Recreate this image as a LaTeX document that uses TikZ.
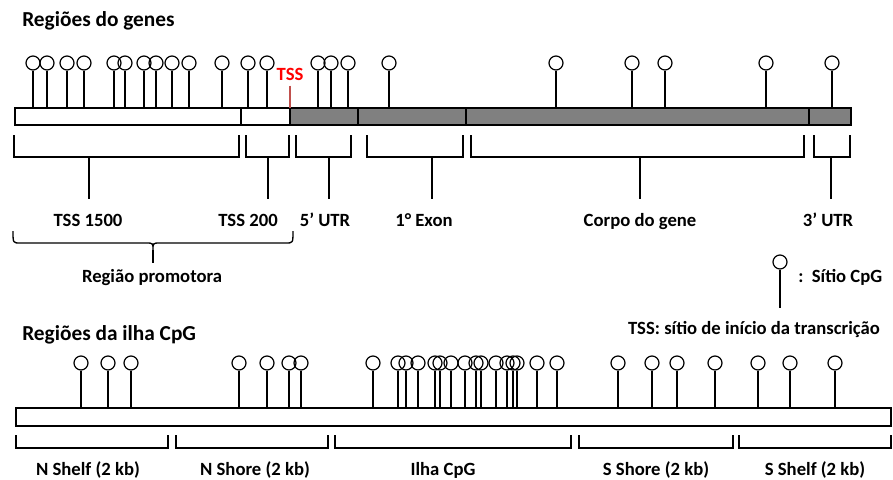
\documentclass[tikz,border=0pt]{standalone}
\usepackage{fontspec}
\setmainfont{Carlito}
\usepackage{tikz}
\usetikzlibrary{calc}
\definecolor{genegray}{RGB}{128,128,128}
\definecolor{tssred}{RGB}{255,0,0}
\definecolor{tssline}{RGB}{192,80,77}

\begin{document}
\begin{tikzpicture}[x=0.75pt, y=-0.75pt,
        site/.style={circle, draw, line width=0.9pt, minimum size=10.5pt, inner sep=0pt},
        stem/.style={line width=0.9pt},
        bar/.style={line width=2.2pt},
        bracket/.style={line width=1pt},
        heading/.style={anchor=base west, inner sep=0pt, font=\fontsize{16}{19}\selectfont\bfseries},
        regionlabel/.style={anchor=base, inner sep=0pt, font=\fontsize{14}{17}\selectfont\bfseries}]
        \useasboundingbox (0,0) rectangle (893,479);

        % gene regions
        \node[heading] (genetitle) at (22,26.5) {Regiões do genes};
        \coordinate (genetop) at (0,108);
        \fill[white] (15,108) rectangle (290,125);
        \fill[genegray] (290,108) rectangle (851,125);
        \foreach \x in {241,290,358,466,809}
            \draw[line width=1.5pt] (\x,108) -- (\x,125);
        \draw[bar] (15,108) rectangle (851,125);
        \foreach \x [count=\i] in {33,47,67,84,114,125,144,156,172,189,222,248,267,318,331,348,389,556,632,665,766,832} {
            \node[site] (g\i) at (\x,63) {};
            \draw[stem] (g\i.south) -- (g\i.south |- genetop);
        }
        \node[regionlabel, text=tssred] (tss) at (290,80) {TSS};
        \draw[tssline, line width=1.8pt] ([yshift=-4pt]tss.south) -- (tss.south |- genetop);

        % brackets under the gene
        \foreach \l/\r/\m in {14/239/89, 246/289/268, 296/351/329, 367/463/432, 471/804/640, 814/850/831} {
            \draw[bracket] (\l,135) |- (\r,157) -- (\r,135);
            \draw[bracket] (\m,157) -- (\m,199);
        }
        \node[regionlabel] (tss1500) at (88,226) {TSS 1500};
        \node[regionlabel] (tss200) at (248,226) {TSS 200};
        \node[regionlabel] (utr5) at (325,226) {5' UTR};
        \node[regionlabel] (exon1) at (424,226) {1° Exon};
        \node[regionlabel] (genebody) at (640,226) {Corpo do gene};
        \node[regionlabel] (utr3) at (828,226) {3' UTR};

        \draw[bracket] (13,231) .. controls (13,243) .. (20,243) -- (146,243) .. controls (153,243) .. (153,250)
            .. controls (153,243) .. (160,243) -- (286,243) .. controls (293,243) .. (293,231);
        \draw[bracket] (153,250) -- (153,263);
        \node[regionlabel] (promoter) at (152,282) {Região promotora};

        % legend
        \node[site] (legendsite) at (780,262) {};
        \draw[stem] (legendsite.south) -- ++(0,38);
        \node[regionlabel, anchor=base west] (legendtext) at (798,282) {:\ \ Sítio CpG};
        \node[regionlabel, anchor=base east] (tssnote) at (880,334) {TSS: sítio de início da transcrição};

        % CpG island regions
        \node[heading] (cpgtitle) at (22,340) {Regiões da ilha CpG};
        \coordinate (cpgtop) at (0,408);
        \draw[bar] (16,408) rectangle (891,426);
        \foreach \x [count=\i] in {81,108,131,239,267,289,301,373,398,406,418,435,440,451,465,476,481,496,507,513,517,537,557,618,652,677,715,758,790,835} {
            \node[site] (c\i) at (\x,363) {};
            \draw[stem] (c\i.south) -- (c\i.south |- cpgtop);
        }
        \foreach \l/\r in {16/168, 176/328, 335/571, 579/733, 739/891}
            \draw[bracket] (\l,435) |- (\r,448) -- (\r,435);
        \node[regionlabel] (nshelf) at (88,475) {N Shelf (2 kb)};
        \node[regionlabel] (nshore) at (255,475) {N Shore (2 kb)};
        \node[regionlabel] (island) at (443,475) {Ilha CpG};
        \node[regionlabel] (sshore) at (656,475) {S Shore (2 kb)};
        \node[regionlabel] (sshelf) at (815,475) {S Shelf (2 kb)};
    \end{tikzpicture}
\end{document}
